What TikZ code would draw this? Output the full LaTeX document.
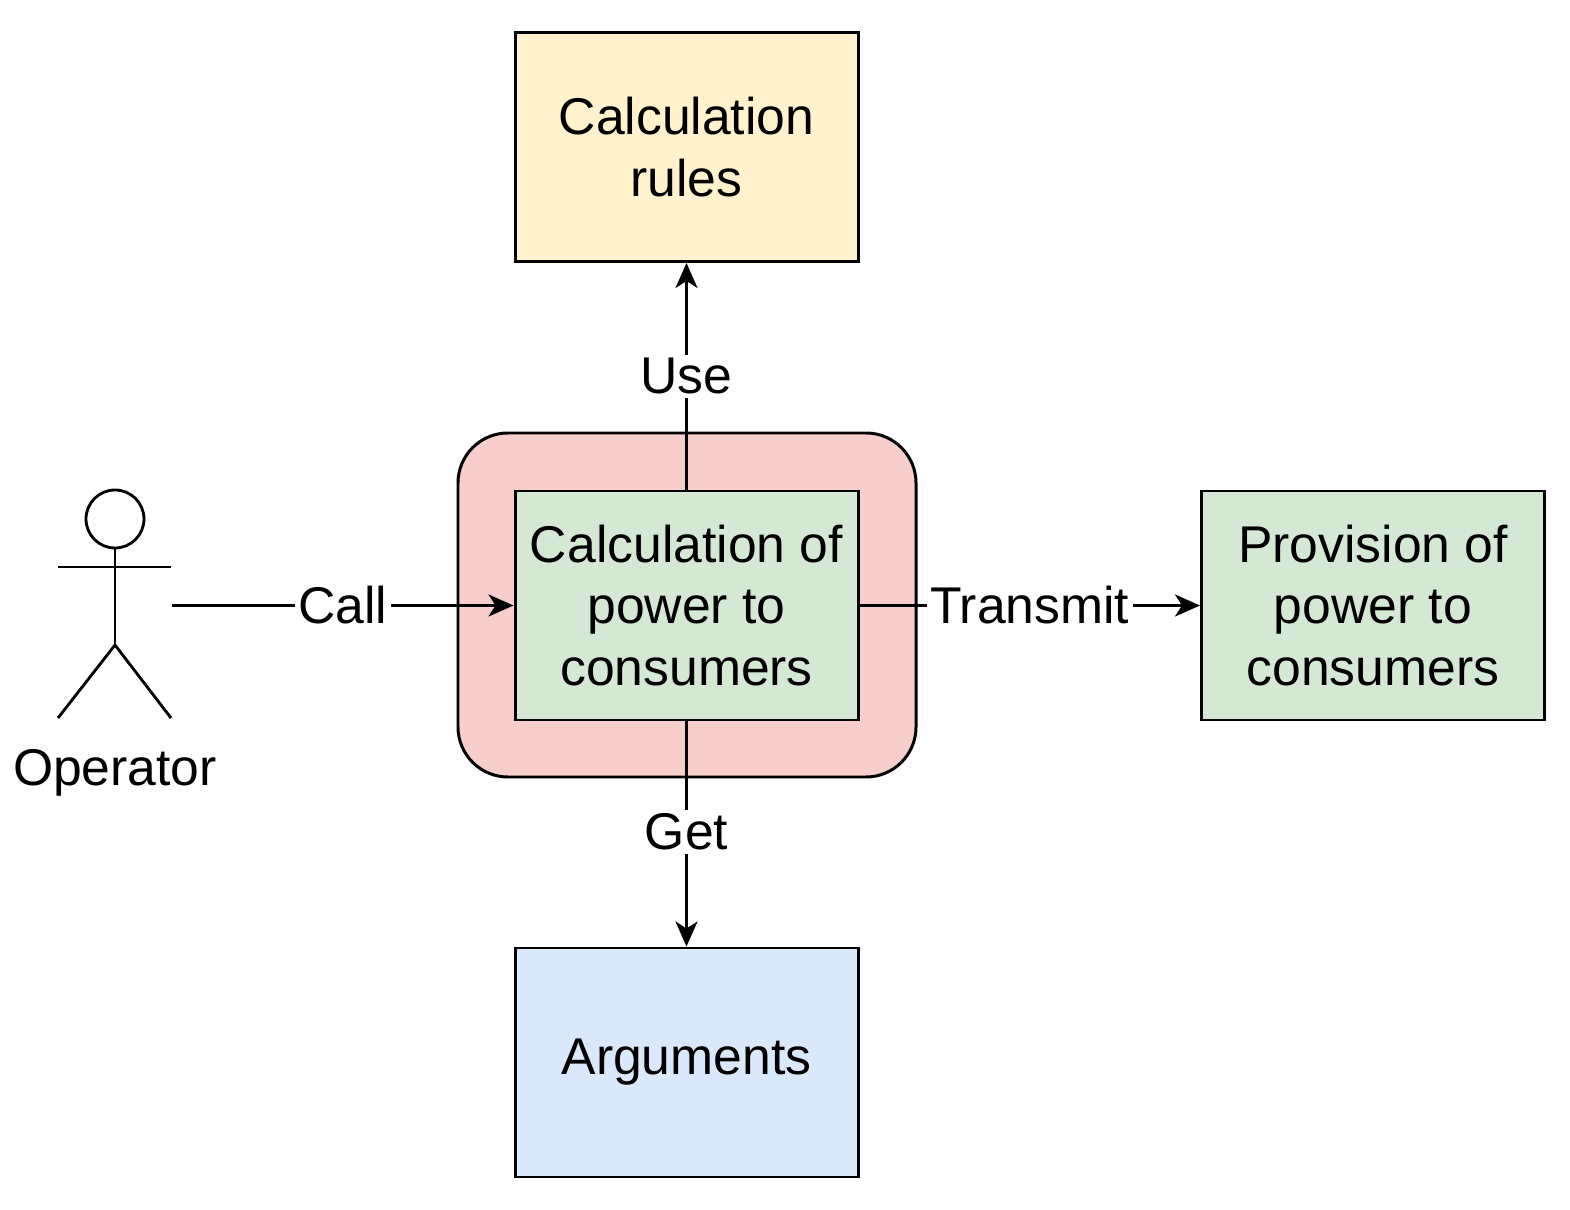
\documentclass[tikz,border=0pt]{standalone}
\usepackage{fontspec}
\setmainfont{Liberation Sans}
\usetikzlibrary{arrows.meta}
\definecolor{rulesfill}{HTML}{FFF2CC}
\definecolor{calcfill}{HTML}{D5E8D4}
\definecolor{wrapfill}{HTML}{F8CECC}
\definecolor{argfill}{HTML}{DAE8FC}
\tikzset{
  box/.style={draw,line width=0.85pt,minimum width=3.43cm,minimum height=2.29cm,
    align=center,inner sep=0pt,font=\fontsize{14.7}{17.6}\selectfont},
  lbl/.style={fill=white,inner sep=1pt,font=\fontsize{14.7}{17.6}\selectfont},
  conn/.style={line width=0.8pt,-{Stealth[length=0.25cm,width=0.22cm,inset=0.07cm]}}
}

\begin{document}
\begin{tikzpicture}[x=1cm,y=1cm]
  \useasboundingbox (0,0) rectangle (15.70,12.09);
  % outer wrapper
  \draw[line width=0.85pt,fill=wrapfill,rounded corners=0.5cm] (4.58,4.32) rectangle (9.16,7.76);
  \draw(6.865,10.62) node[box,fill=rulesfill] (R) {Calculation\\rules};
  \draw(6.865,6.035) node[box,fill=calcfill] (C) {Calculation of\\power to\\consumers};
  \draw(13.73,6.035) node[box,fill=calcfill] (P) {Provision of\\power to\\consumers};
  \draw(6.865,1.465) node[box,fill=argfill] (A) {Arguments};
  % operator
  \draw[line width=0.8pt] (1.15,6.90) circle (0.29);
  \coordinate (neck) at (1.15,6.61);
  \coordinate (hip) at (1.15,5.64);
  \draw[line width=0.8pt] (neck) -- (hip);
  \draw[line width=0.8pt] (0.58,6.42) -- (1.71,6.42);
  \draw[line width=0.8pt] (0.58,4.91) -- (hip) -- (1.71,4.91);
  \node[font=\fontsize{14.7}{17.6}\selectfont] (O) at (1.15,4.36) {Operator};
  \coordinate (hand) at (1.72,6.035);
  % connectors
  \draw[conn] (hand) -- node[lbl] {Call} (C.west);
  \draw[conn] (C.east) -- node[lbl] {Transmit} (P.west);
  \draw[conn] (C.north) -- node[lbl,pos=0.5] {Use} (R.south);
  \draw[conn] (C.south) -- node[lbl,pos=0.49] {Get} (A.north);
\end{tikzpicture}
\end{document}
